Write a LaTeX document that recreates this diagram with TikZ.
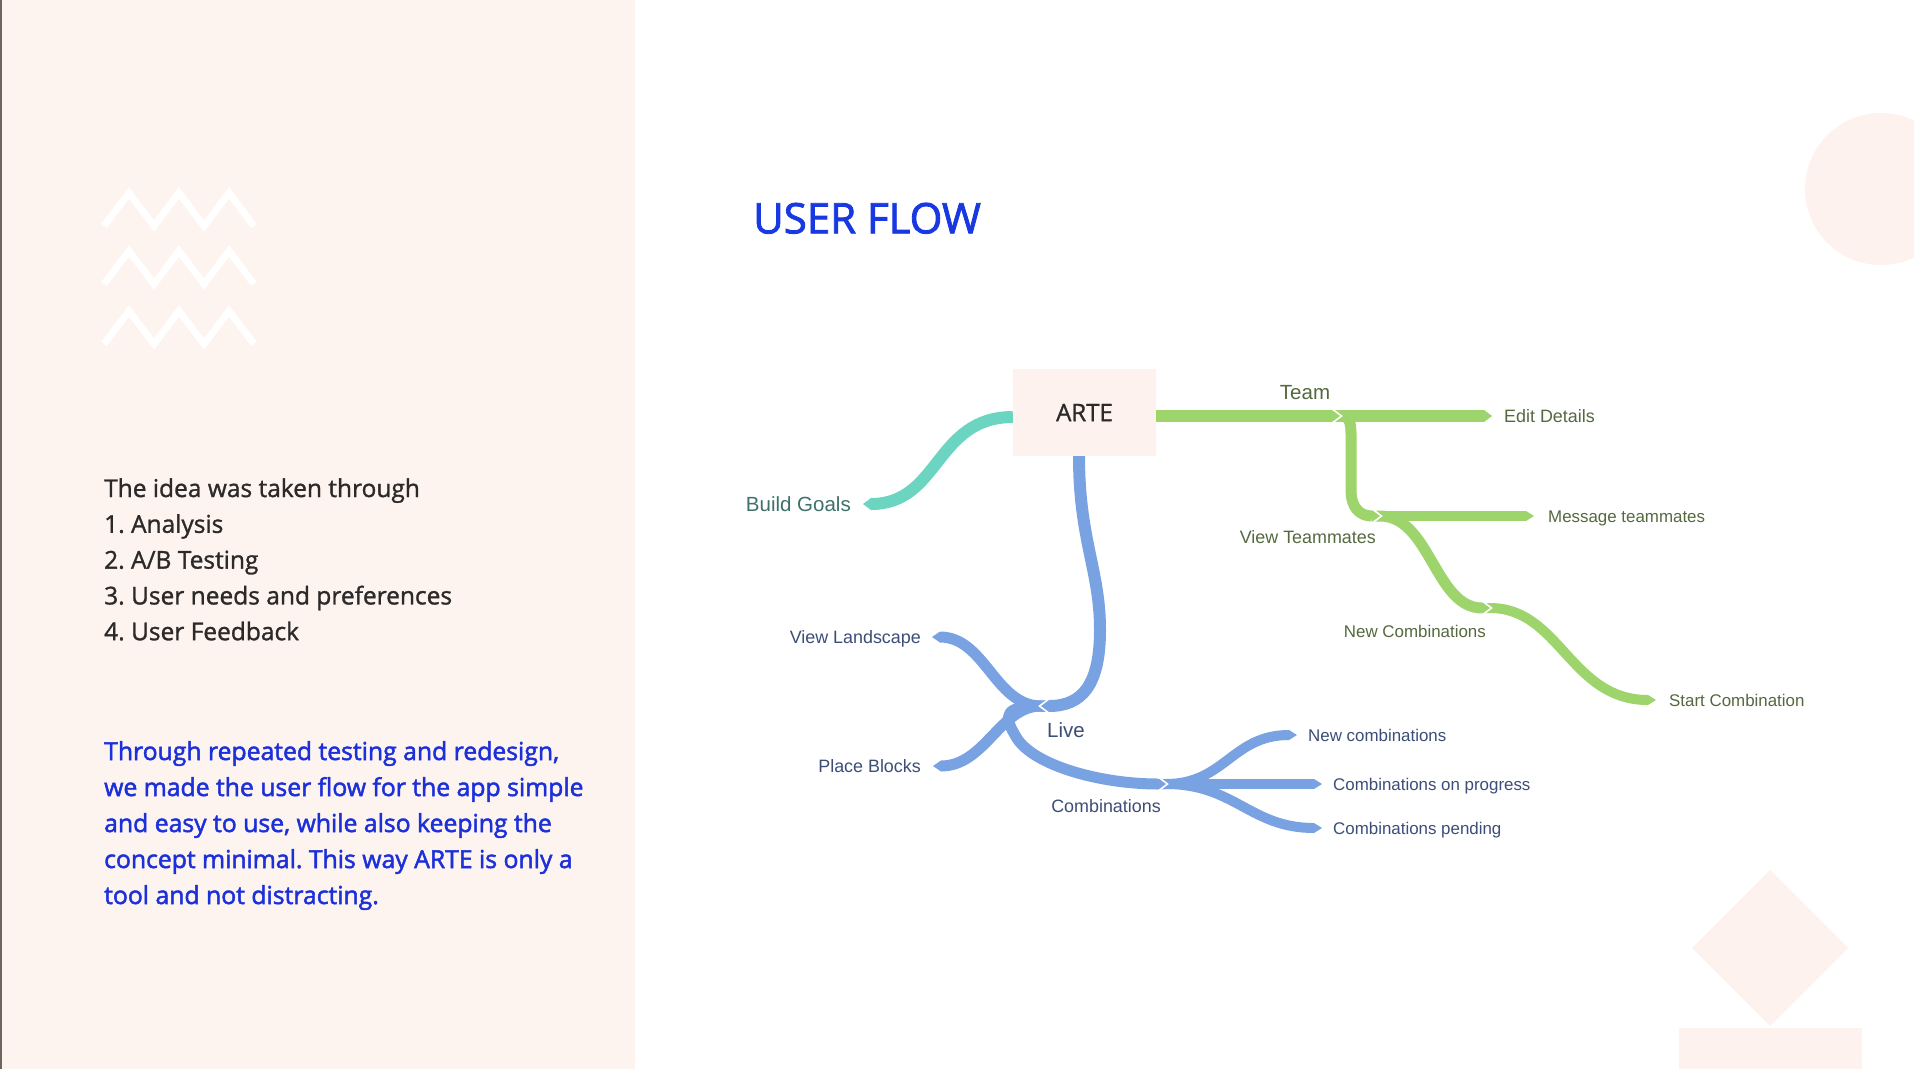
\documentclass[tikz,border=0pt]{standalone}
\usepackage{fontspec}
\setmainfont{Open Sans}
\newfontfamily\semifont{Open Sans}[FakeBold=2]
\newfontfamily\medfont{Open Sans}[FakeBold=1.2]
\newfontfamily\labelfont{Liberation Sans}
\usetikzlibrary{arrows.meta}
\frenchspacing

\definecolor{panel}{HTML}{FDF4F0}
\definecolor{shapefill}{HTML}{FDF2EE}
\definecolor{edge}{HTML}{6E6464}
\definecolor{titleblue}{HTML}{1838E2}
\definecolor{storyblue}{HTML}{1C30DA}
\definecolor{darktext}{HTML}{2C2929}
\definecolor{gband}{HTML}{9DD46B}
\definecolor{gtext}{HTML}{55693F}
\definecolor{bband}{HTML}{79A2E2}
\definecolor{btext}{HTML}{3C4D77}
\definecolor{tband}{HTML}{6BD5C1}
\definecolor{ttext}{HTML}{3F716A}

\tikzset{
  bandA/.style={line width=12pt, line cap=butt, line join=round,
    -{Triangle[length=8pt,width=12pt,line width=0pt]}},
  bandB/.style={line width=11pt, line cap=butt, line join=round,
    -{Triangle[length=8pt,width=11pt,line width=0pt]}},
  bandC/.style={line width=10pt, line cap=butt, line join=round,
    -{Triangle[length=8pt,width=10pt,line width=0pt]}},
  labA/.style={inner sep=0pt, font=\labelfont\fontsize{20.5}{24}\selectfont,
    text height=14.7pt, text depth=0pt},
  labB/.style={inner sep=0pt, font=\labelfont\fontsize{17.9}{21}\selectfont,
    text height=12.8pt, text depth=0pt},
  labC/.style={inner sep=0pt, font=\labelfont\fontsize{16.9}{20}\selectfont,
    text height=12.1pt, text depth=0pt},
  idea/.style={anchor=base west, inner sep=0pt, text=darktext,
    font=\medfont\fontsize{24.5}{24.5}\selectfont},
  story/.style={anchor=base west, inner sep=0pt, text=storyblue,
    font=\semifont\fontsize{24.75}{24.75}\selectfont},
  zig/.style={white, line width=7pt, line cap=butt, line join=miter},
  notchR/.pic={\draw[white, line width=1.6pt, line cap=butt, line join=miter]
    (-7.8,-7) -- (1.5,0) -- (-7.8,7);},
  notchL/.pic={\draw[white, line width=1.6pt, line cap=butt, line join=miter]
    (7.8,-7) -- (-1.5,0) -- (7.8,7);}
}

\begin{document}
\begin{tikzpicture}[x=1pt, y=-1pt]
\useasboundingbox (0,0) rectangle (1914,1069);
\clip (0,0) rectangle (1914,1069);

% page background and left panel
\fill[white] (0,0) rectangle (1914,1069);
\fill[panel] (0,0) rectangle (635,1069);
\fill[edge] (0,0) rectangle (2,1069);

% white zigzag ornament
\foreach \yy in {193,251,311}
  \draw[zig] (104,\yy+33) -- (129,\yy) -- (154,\yy+33) -- (179,\yy)
    -- (204,\yy+33) -- (229,\yy) -- (254,\yy+33);

% decorative shapes on the right
\fill[shapefill] (1881,189) circle (76);
\fill[shapefill] (1770,870) -- (1848,948) -- (1770,1026) -- (1692,948) -- cycle;
\fill[shapefill] (1679,1028) rectangle (1862,1069);

% left column text
\node[idea] (idea1) at (104,497) {The idea was taken through};
\node[idea] (idea2) at (104,532.8) {1. Analysis};
\node[idea] (idea3) at (104,568.6) {2. A/B Testing};
\node[idea] (idea4) at (104,604.4) {3. User needs and preferences};
\node[idea] (idea5) at (104,640.2) {4. User Feedback};

\node[story] (story1) at (104,760) {Through repeated testing and redesign,};
\node[story] (story2) at (104,796) {we made the user flow for the app simple};
\node[story] (story3) at (104,832) {and easy to use, while also keeping the};
\node[story] (story4) at (104,868) {concept minimal. This way ARTE is only a};
\node[story] (story5) at (104,904) {tool and not distracting.};

% title
\node[anchor=base west, inner sep=0pt, text=titleblue,
      font=\semifont\fontsize{42}{42}\selectfont] (title) at (753,233.3) {USER FLOW};

% central node
\node[fill=shapefill, minimum width=143pt, minimum height=87pt, inner sep=0pt,
      text=darktext, font=\medfont\fontsize{24}{24}\selectfont] (arte) at (1084.5,412.5) {ARTE};

% branch labels
\node[labA, text=gtext] (team) at (1305,392) {Team};
\node[labB, text=gtext, anchor=west] (edit) at (1504,416) {Edit Details};
\node[labB, text=gtext, anchor=east] (viewteam) at (1376,537) {View Teammates};
\node[labC, text=gtext, anchor=west] (msg) at (1548,516) {Message teammates};
\node[labC, text=gtext, anchor=east] (newcombs) at (1486,631) {New Combinations};
\node[labC, text=gtext, anchor=west] (startc) at (1669,700) {Start Combination};

\node[labA, text=btext] (live) at (1066,730) {Live};
\node[labB, text=btext] (combs) at (1106,806) {Combinations};
\node[labB, text=btext, anchor=east] (land) at (921,637) {View Landscape};
\node[labB, text=btext, anchor=east] (place) at (921,766) {Place Blocks};
\node[labC, text=btext, anchor=west] (newc) at (1308,735) {New combinations};
\node[labC, text=btext, anchor=west] (prog) at (1333,784) {Combinations on progress};
\node[labC, text=btext, anchor=west] (pend) at (1333,828) {Combinations pending};

\node[labA, text=ttext, anchor=east] (goals) at (851,504) {Build Goals};

% junction points
\coordinate (teamJ) at (1340,416);  \coordinate (teamJb) at (1332,416);
\coordinate (vtJ) at (1380,516);    \coordinate (vtJb) at (1372,516);
\coordinate (ncJ) at (1490,608);    \coordinate (ncJb) at (1482,608);
\coordinate (liveJ) at (1041,706);  \coordinate (liveJb) at (1049,706);
\coordinate (combJ) at (1166,784);  \coordinate (combJb) at (1158,784);

% Build Goals branch
\draw[bandA, tband] ([yshift=-4.5pt]arte.west) .. controls (935,417) and (940,504)
  .. ([xshift=12pt]goals.east);

% Team branch, drawn from the leaves inward
\draw[bandC, gband] (ncJb) -- (ncJ) .. controls (1560,608) and (1570,700)
  .. ([xshift=-13pt]startc.west);
\draw[bandC, gband] (vtJb) -- ([xshift=-14pt]msg.west);
\draw[bandB, gband] (vtJb) -- (vtJ) .. controls (1430,516) and (1435,608) .. (ncJ);
\draw[bandA, gband] (teamJb) -- ([xshift=-12pt]edit.west);
\draw[bandB, gband] (teamJb) -- (teamJ) .. controls (1352,416) and (1351,425) .. (1351,445)
  -- (1351,490) .. controls (1351,508) and (1360,516) .. (vtJ);
\draw[bandA, gband] ([yshift=-3.5pt]arte.east) -- (teamJ);
\pic at (teamJ) {notchR};
\pic at (vtJ) {notchR};
\pic at (ncJ) {notchR};

% Live branch, drawn from the leaves inward
\draw[bandC, bband] (combJb) -- (combJ) .. controls (1225,784) and (1232,735)
  .. ([xshift=-11pt]newc.west);
\draw[bandC, bband] (combJb) -- ([xshift=-11pt]prog.west);
\draw[bandC, bband] (combJb) -- (combJ) .. controls (1235,784) and (1250,828)
  .. ([xshift=-11pt]pend.west);
\draw[bandB, bband] (liveJb) -- (liveJ) .. controls (995,706) and (985,637)
  .. ([xshift=11pt]land.east);
\draw[bandB, bband] (liveJb) -- (liveJ) .. controls (1000,706) and (985,766)
  .. ([xshift=12pt]place.east);
\draw[bandB, bband] (liveJb) -- (liveJ) .. controls (1005,706) and (1003,715) .. (1015,735)
  .. controls (1030,765) and (1100,784) .. (combJ);
\draw[bandA, bband] ([xshift=-5.5pt]arte.south) .. controls (1079,540) and (1100,570) .. (1100,630)
  .. controls (1100,685) and (1082,706) .. (liveJ);
\pic at (liveJ) {notchL};
\pic at (combJ) {notchR};
\end{tikzpicture}
\end{document}
